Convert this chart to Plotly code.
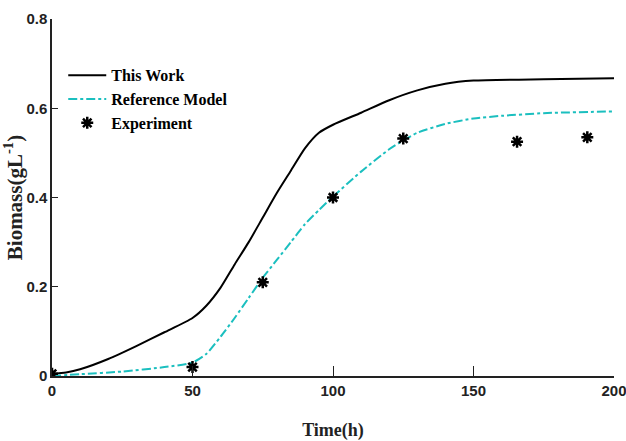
import plotly.graph_objects as go

# This Work model (black solid)
tw_t = [0, 5, 10, 20, 30, 40, 50, 55, 60, 65, 70, 75, 80, 85, 90, 95, 100, 110, 120, 130, 140, 150, 175, 200]
tw_x = [0.005, 0.008, 0.015, 0.038, 0.067, 0.098, 0.13, 0.158, 0.198, 0.25, 0.30, 0.355, 0.41, 0.46, 0.51, 0.545, 0.563, 0.59, 0.618, 0.64, 0.655, 0.662, 0.665, 0.667]

# Reference model (cyan dash-dot)
ref_t = [0, 10, 25, 40, 50, 55, 60, 65, 70, 75, 80, 85, 90, 95, 100, 110, 120, 125, 130, 140, 150, 160, 175, 200]
ref_x = [0.0, 0.004, 0.01, 0.02, 0.03, 0.05, 0.088, 0.13, 0.175, 0.22, 0.26, 0.30, 0.34, 0.372, 0.402, 0.458, 0.508, 0.528, 0.545, 0.565, 0.577, 0.583, 0.589, 0.593]

# Experimental data
exp_t = [0, 50, 75, 100, 125, 165.5, 190.5]
exp_x = [0.005, 0.02, 0.21, 0.40, 0.532, 0.525, 0.535]

x_ticks = [0, 50, 100, 150, 200]
y_ticks = [0, 0.2, 0.4, 0.6, 0.8]
y_ticklabels = ["0", "0.2", "0.4", "0.6", "0.8"]

fig = go.Figure()
fig.add_trace(go.Scatter(x=tw_t, y=tw_x, mode="lines", name="<b>This Work</b>",
                         line=dict(color="black", width=2, shape="spline", smoothing=0.6)))
fig.add_trace(go.Scatter(x=ref_t, y=ref_x, mode="lines", name="<b>Reference Model</b>",
                         line=dict(color="#1bbfbf", width=2, dash="dashdot", shape="spline", smoothing=0.6)))
fig.add_trace(go.Scatter(x=exp_t, y=exp_x, mode="markers", name="<b>Experiment</b>",
                         marker=dict(symbol="asterisk-open", size=10, color="black",
                                     line=dict(color="black", width=2.5))))

tickfont = dict(family="Liberation Sans, Arial, sans-serif", size=15, color="#222")
serif = "Liberation Serif, Times New Roman, serif"
fig.update_layout(
    width=626, height=441,
    margin=dict(l=52, r=12, t=19, b=65),
    plot_bgcolor="white", paper_bgcolor="white",
    showlegend=True,
    legend=dict(x=0.02, y=0.89, xanchor="left", yanchor="top",
                bgcolor="rgba(0,0,0,0)", borderwidth=0,
                font=dict(family=serif, size=16, color="black"),
                tracegroupgap=0, itemwidth=38),
    xaxis=dict(range=[0, 200], tickvals=x_ticks, ticktext=["<b>%d</b>" % v for v in x_ticks],
               ticks="inside", ticklen=10, automargin=False, ticklabeloverflow="allow",
               tickwidth=1, tickcolor="#222", showline=True, linecolor="#222", linewidth=2,
               showgrid=False, zeroline=False, tickfont=tickfont,
               title=dict(text="<b>Time(h)</b>", standoff=26,
                          font=dict(family=serif, size=18, color="#222"))),
    yaxis=dict(range=[0, 0.8], tickvals=y_ticks, ticktext=["<b>%s</b>" % s for s in y_ticklabels],
               ticks="inside", ticklen=6, tickwidth=1, tickcolor="#222", automargin=False,
               ticklabeloverflow="allow",
               showline=True, linecolor="#222", linewidth=1.5,
               showgrid=False, zeroline=False, tickfont=tickfont,
               title=dict(text="<b>Biomass(gL<sup>-1</sup>)</b>", standoff=6,
                          font=dict(family=serif, size=21, color="#222"))),
)
fig.write_html("out.html")
